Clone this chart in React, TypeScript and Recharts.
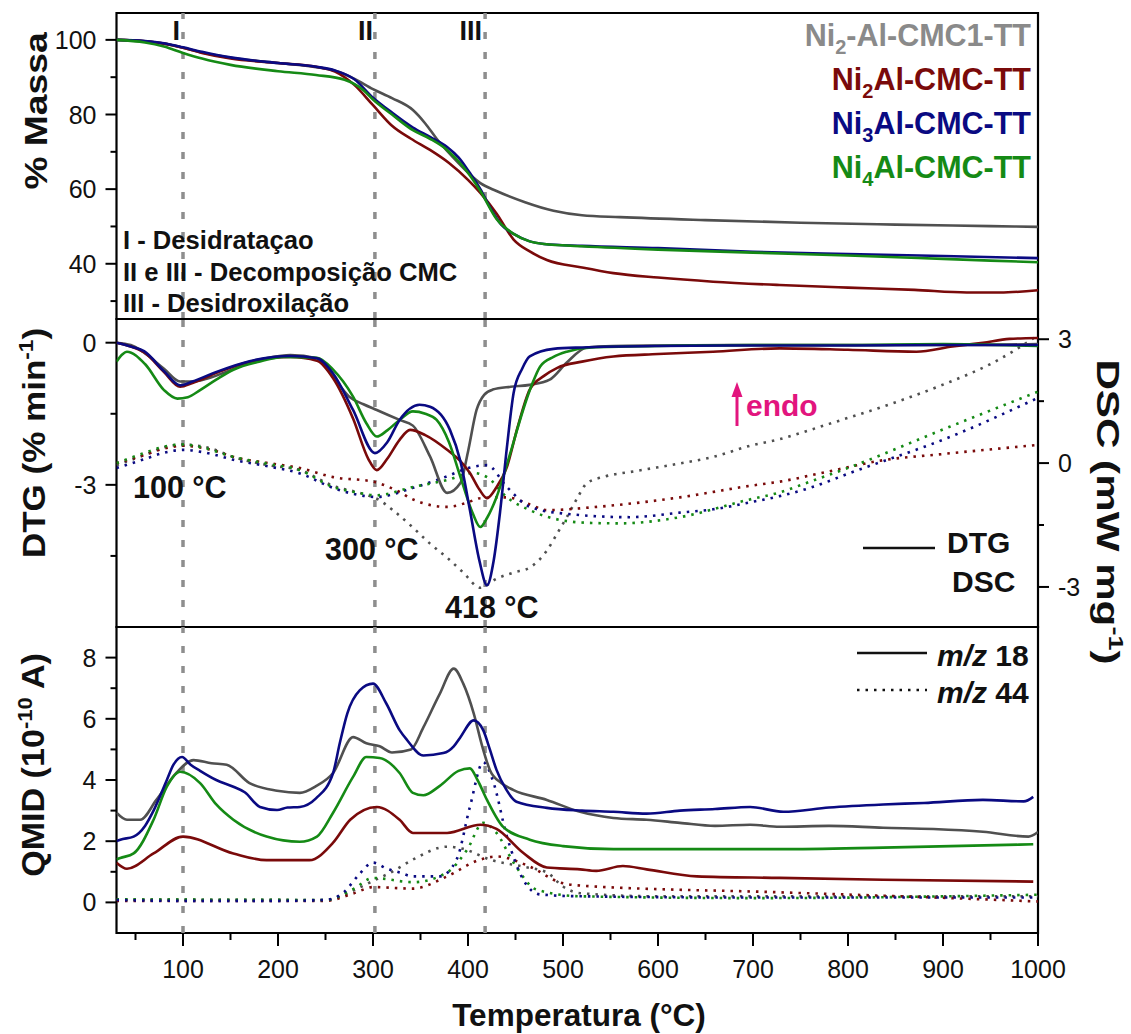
import React from 'react';
import { LineChart, Line, XAxis, YAxis, ReferenceLine, ReferenceArea } from 'recharts';

type Pt = [number, number];

const FONT = "'Liberation Sans', Arial, Helvetica, sans-serif";
const COLORS = { gray: '#505050', red: '#7a0a0a', blue: '#0a0a82', green: '#158a15' };
const LEGEND_GRAY = '#8a8a8a';
const PINK = '#e2157e';

// shared x axis
const X_DOMAIN: [number, number] = [30, 1000];
const X_TICKS = [50, 100, 150, 200, 250, 300, 350, 400, 450, 500, 550, 600, 650, 700, 750, 800, 850, 900, 950, 1000];
const X_MAJOR = [100, 200, 300, 400, 500, 600, 700, 800, 900, 1000];
const GUIDE_TEMPS = [100, 302, 418];

// y axes
const TGA_DOMAIN: [number, number] = [25.2, 107.2];
const TGA_TICKS = [30, 40, 50, 60, 70, 80, 90, 100];
const TGA_MAJOR = [40, 60, 80, 100];
const DTG_DOMAIN: [number, number] = [-6, 0.5];
const DTG_TICKS = [-4.5, -3, -1.5, 0];
const DTG_MAJOR = [-3, 0];
const DSC_DOMAIN: [number, number] = [-3.97, 3.49];
const DSC_TICKS = [-3, -1.5, 0, 1.5, 3];
const DSC_MAJOR = [-3, 0, 3];
const QMID_DOMAIN: [number, number] = [-1, 9];
const QMID_TICKS = [0, 1, 2, 3, 4, 5, 6, 7, 8];
const QMID_MAJOR = [0, 2, 4, 6, 8];

// ---------- TGA (% massa) ----------
const tgaGray: Pt[] = [[30,100],[60,99.6],[80,99],[100,97.9],[120,96.6],[150,95.2],[200,93.8],[240,92.7],[260,91.7],[280,89.6],[300,86.8],[320,84.4],[342,81.2],[355,77.6],[367,73.5],[390,67],[413,61.6],[430,59.5],[460,56.5],[490,54.2],[520,53],[560,52.5],[650,51.7],[750,51],[850,50.5],[950,50.1],[1000,49.9]];
const tgaRed: Pt[] = [[30,100],[60,99.6],[80,99],[100,97.9],[120,96.5],[150,95],[200,93.8],[240,92.8],[260,91.5],[280,88],[300,82.5],[320,77],[340,73.5],[360,70.5],[380,67],[400,62.5],[413,59],[430,53.5],[448,46.5],[465,43.3],[483,41],[520,39],[553,37.5],[600,36.3],[658,35.2],[728,34.3],[800,33.6],[870,33],[925,32.3],[960,32.3],[1000,32.9]];
const tgaBlue: Pt[] = [[30,100],[60,99.7],[80,99.1],[100,98],[120,96.8],[150,95.3],[200,93.8],[240,92.8],[260,91.8],[280,89.5],[300,84.5],[320,80.5],[342,76.5],[360,74],[378,71.3],[390,68.5],[402,64.3],[413,60],[423,55.2],[435,50.5],[448,48],[465,46],[480,45.3],[520,44.8],[600,44.2],[700,43.2],[800,42.6],[900,42.1],[1000,41.5]];
const tgaGreen: Pt[] = [[30,100],[60,99.3],[80,98.2],[100,96.5],[120,95],[150,93.3],[200,91.6],[240,90.6],[270,89.3],[290,86.5],[300,84],[320,80],[342,75.8],[360,73.5],[378,70.5],[395,66],[413,59.5],[430,52],[448,48],[465,46],[480,45.3],[520,44.7],[600,43.8],[700,43],[800,42.2],[900,41.3],[1000,40.4]];

// ---------- DTG (% min-1) ----------
const dtgGray: Pt[] = [[30,0],[45,-0.05],[59,-0.21],[80,-0.55],[97,-0.82],[110,-0.82],[125,-0.76],[150,-0.58],[170,-0.42],[190,-0.32],[213,-0.26],[241,-0.33],[258,-0.72],[275,-1.14],[290,-1.3],[304,-1.42],[328,-1.63],[342,-1.75],[360,-2.4],[378,-3.17],[392,-2.96],[400,-2.3],[409,-1.42],[417,-1.1],[426,-0.99],[445,-0.93],[465,-0.89],[486,-0.78],[504,-0.42],[525,-0.1],[553,-0.07],[600,-0.06],[700,-0.05],[800,-0.05],[900,-0.05],[1000,-0.03]];
const dtgRed: Pt[] = [[30,0],[45,-0.08],[59,-0.2],[80,-0.62],[97,-0.93],[110,-0.85],[136,-0.63],[170,-0.4],[213,-0.3],[241,-0.38],[258,-0.75],[279,-1.6],[295,-2.45],[304,-2.69],[315,-2.45],[328,-2.05],[339,-1.84],[355,-1.95],[378,-2.26],[392,-2.5],[402,-2.75],[412,-3.1],[420,-3.28],[430,-3.05],[441,-2.62],[452,-1.8],[465,-0.99],[480,-0.7],[494,-0.53],[520,-0.4],[553,-0.29],[600,-0.24],[658,-0.19],[728,-0.12],[800,-0.15],[872,-0.19],[910,-0.08],[942,0],[970,0.08],[1000,0.1]];
const dtgBlue: Pt[] = [[30,0],[45,-0.08],[59,-0.18],[80,-0.6],[97,-0.9],[110,-0.82],[136,-0.61],[170,-0.39],[213,-0.28],[241,-0.33],[258,-0.65],[279,-1.42],[302,-2.33],[315,-2.1],[328,-1.63],[349,-1.31],[360,-1.35],[381,-1.84],[392,-2.5],[402,-3.53],[412,-4.6],[420,-5.12],[427,-4.6],[434,-3.53],[441,-2.2],[448,-1.06],[457,-0.55],[465,-0.29],[490,-0.13],[520,-0.1],[600,-0.07],[700,-0.06],[800,-0.06],[900,-0.05],[1000,-0.05]];
const dtgGreen: Pt[] = [[30,-0.4],[36,-0.25],[41,-0.19],[60,-0.45],[80,-1.0],[94,-1.18],[105,-1.15],[118,-1.0],[135,-0.78],[153,-0.57],[180,-0.4],[206,-0.3],[241,-0.32],[258,-0.57],[279,-1.14],[293,-1.7],[304,-1.98],[315,-1.85],[328,-1.63],[342,-1.45],[355,-1.5],[367,-1.63],[380,-2.1],[392,-2.83],[405,-3.6],[413,-3.89],[420,-3.7],[430,-3.26],[445,-2.3],[458,-1.42],[467,-0.9],[476,-0.5],[490,-0.3],[504,-0.19],[530,-0.1],[600,-0.07],[700,-0.05],[800,-0.05],[900,-0.03],[1000,-0.07]];

// ---------- DSC (mW mg-1) ----------
const dscGray: Pt[] = [[30,-0.05],[60,0.2],[80,0.38],[100,0.45],[130,0.35],[153,0.15],[190,-0.05],[223,-0.17],[258,-0.55],[290,-0.75],[307,-0.9],[321,-1.14],[342,-1.56],[360,-1.95],[378,-2.29],[395,-2.65],[413,-3.02],[430,-2.8],[448,-2.65],[465,-2.53],[483,-2.12],[494,-1.7],[504,-1.31],[515,-0.85],[525,-0.49],[545,-0.32],[575,-0.2],[620,-0.02],[658,0.15],[697,0.42],[728,0.58],[780,0.95],[837,1.37],[900,1.9],[950,2.4],[977,2.75],[1000,3.1]];
const dscRed: Pt[] = [[30,0],[60,0.2],[80,0.35],[100,0.42],[130,0.32],[153,0.15],[190,0],[223,-0.12],[258,-0.34],[300,-0.45],[328,-0.7],[342,-0.88],[378,-1.06],[400,-0.95],[413,-0.85],[441,-0.83],[465,-1.0],[483,-1.14],[536,-1.06],[623,-0.83],[697,-0.55],[728,-0.45],[780,-0.2],[837,0.07],[900,0.22],[1000,0.44]];
const dscBlue: Pt[] = [[30,-0.12],[60,0.1],[80,0.25],[100,0.32],[130,0.22],[153,0.08],[190,-0.08],[223,-0.25],[258,-0.6],[280,-0.75],[304,-0.82],[342,-0.6],[378,-0.32],[400,-0.12],[420,-0.05],[441,-0.58],[465,-1.06],[500,-1.22],[570,-1.31],[623,-1.2],[658,-1.12],[697,-0.95],[728,-0.8],[760,-0.6],[802,-0.24],[907,0.63],[1000,1.58]];
const dscGreen: Pt[] = [[30,0],[60,0.25],[80,0.4],[100,0.45],[120,0.38],[153,0.15],[190,-0.02],[223,-0.17],[258,-0.58],[280,-0.7],[304,-0.78],[342,-0.58],[378,-0.41],[405,-0.24],[420,-0.34],[441,-0.83],[465,-1.14],[500,-1.39],[530,-1.45],[560,-1.46],[623,-1.31],[693,-0.9],[728,-0.71],[760,-0.45],[802,-0.1],[907,0.88],[1000,1.73]];

// ---------- QMID m/z 18 (10^-10 A) ----------
const ms18Gray: Pt[] = [[30,2.93],[41,2.7],[55,2.7],[72,3.35],[93,4.23],[111,4.65],[130,4.55],[146,4.5],[170,3.9],[199,3.65],[223,3.58],[240,3.8],[258,4.23],[279,5.4],[293,5.2],[307,5.1],[320,4.9],[340,5.0],[353,5.72],[370,6.8],[385,7.64],[395,7.15],[406,6.18],[415,5.1],[423,4.33],[435,3.9],[448,3.67],[483,3.35],[518,2.96],[553,2.76],[588,2.7],[623,2.6],[660,2.5],[697,2.54],[728,2.47],[780,2.5],[837,2.44],[890,2.4],[942,2.31],[990,2.15],[1000,2.3]];
const ms18Red: Pt[] = [[30,1.3],[41,1.1],[69,1.6],[100,2.15],[153,1.6],[188,1.38],[233,1.38],[258,1.95],[276,2.7],[304,3.12],[328,2.7],[342,2.27],[378,2.27],[413,2.54],[430,2.4],[458,1.62],[483,1.14],[518,1.08],[535,1.03],[563,1.19],[588,1.08],[641,0.85],[728,0.8],[837,0.74],[995,0.68]];
const ms18Blue: Pt[] = [[30,2.0],[34,2.05],[48,2.15],[60,2.5],[69,3.0],[83,4.0],[90,4.5],[99,4.75],[108,4.5],[118,4.3],[135,4.0],[153,3.78],[165,3.6],[181,3.12],[199,3.02],[210,3.1],[223,3.12],[240,3.4],[258,4.23],[265,5.2],[273,6.18],[286,6.93],[300,7.15],[314,6.5],[328,5.63],[336,5.3],[353,4.8],[374,4.88],[385,5.1],[392,5.4],[406,5.95],[416,5.63],[423,5.0],[430,4.33],[440,3.7],[451,3.29],[483,3.09],[520,3.0],[553,2.96],[588,2.9],[623,3.0],[660,3.05],[697,3.12],[732,2.96],[780,3.1],[837,3.2],[880,3.25],[942,3.35],[985,3.3],[995,3.45]];
const ms18Green: Pt[] = [[30,1.4],[34,1.45],[48,1.6],[69,2.7],[83,3.78],[97,4.27],[118,3.9],[135,3.2],[153,2.7],[188,2.15],[223,1.98],[241,2.15],[258,2.93],[279,4.1],[293,4.75],[307,4.72],[328,4.23],[342,3.58],[353,3.5],[370,3.8],[390,4.3],[402,4.38],[410,4.0],[420,3.35],[437,2.47],[465,2.05],[500,1.84],[553,1.74],[728,1.74],[837,1.79],[995,1.9]];

// ---------- QMID m/z 44 ----------
const ms44Gray: Pt[] = [[30,0.1],[250,0.08],[280,0.4],[300,0.7],[320,1.0],[342,1.4],[378,1.82],[395,1.75],[423,1.4],[458,1.17],[483,0.98],[500,0.52],[518,0.3],[600,0.2],[1000,0.2]];
const ms44Red: Pt[] = [[30,0.05],[250,0.05],[280,0.3],[300,0.5],[342,0.45],[378,0.85],[413,1.4],[430,1.5],[465,1.17],[497,0.65],[518,0.55],[728,0.33],[900,0.15],[1000,0.03]];
const ms44Blue: Pt[] = [[30,0.08],[100,0.05],[200,0.05],[250,0.08],[270,0.35],[285,0.9],[300,1.3],[315,1.1],[328,0.98],[342,0.85],[370,0.85],[388,1.4],[402,3.12],[416,4.58],[426,4.0],[441,2.15],[458,0.75],[476,0.26],[518,0.2],[700,0.16],[1000,0.16]];
const ms44Green: Pt[] = [[30,0.1],[250,0.08],[280,0.45],[300,0.8],[342,0.66],[378,0.98],[399,1.72],[416,2.6],[430,2.27],[448,1.3],[472,0.42],[518,0.2],[700,0.14],[1000,0.25]];

const rows = (pts: Pt[]) => pts.map(([t, v]) => ({ t, v }));

const W = 1131;
const PLOT_LEFT = 116.5;
const PLOT_RIGHT_MARGIN = 93;
const DOTTED = '2.5 6';

function yTick(side: 'left' | 'right', majors: number[]) {
  return (p: any) => {
    const { x, y, payload } = p;
    const v = payload.value;
    const isMajor = majors.some((m) => Math.abs(m - v) < 1e-9);
    const dir = side === 'left' ? -1 : 1;
    const len = isMajor ? 11 : 6;
    return (
      <g>
        <line x1={x} x2={x + dir * len} y1={y} y2={y} stroke="#000" strokeWidth={2} />
        {isMajor && (
          <text x={x + dir * (len + 9)} y={y} dy="0.36em" textAnchor={side === 'left' ? 'end' : 'start'} fontSize={25} fontFamily={FONT} fill="#111">
            {String(v)}
          </text>
        )}
      </g>
    );
  };
}

const xTick = (p: any) => {
  const { x, y, payload } = p;
  const v = payload.value;
  const isMajor = X_MAJOR.includes(v);
  return (
    <g>
      <line x1={x} x2={x} y1={y} y2={y + (isMajor ? 13 : 7)} stroke="#000" strokeWidth={2} />
      {isMajor && (
        <text x={x} y={y + 45} textAnchor="middle" fontSize={25} fontFamily={FONT} fill="#111">
          {String(v)}
        </text>
      )}
    </g>
  );
};

const guides = (yAxisId: string) =>
  GUIDE_TEMPS.map((t) => (
    <ReferenceLine key={'g' + t} x={t} yAxisId={yAxisId} stroke="#8e8e8e" strokeWidth={3.5} strokeDasharray="7 13" ifOverflow="visible" />
  ));

const frame = (yAxisId: string, dom: [number, number]) => (
  <ReferenceArea x1={X_DOMAIN[0]} x2={X_DOMAIN[1]} y1={dom[0]} y2={dom[1]} yAxisId={yAxisId} fill="none" stroke="#000" strokeWidth={2.2} ifOverflow="visible" />
);

const solid = (pts: Pt[], color: string, yAxisId: string, key: string) => (
  <Line key={key} data={rows(pts)} dataKey="v" yAxisId={yAxisId} type="monotone" stroke={color} strokeWidth={2.6} dot={false} activeDot={false} isAnimationActive={false} />
);
const dotted = (pts: Pt[], color: string, yAxisId: string, key: string) => (
  <Line key={key} data={rows(pts)} dataKey="v" yAxisId={yAxisId} type="monotone" stroke={color} strokeWidth={2.6} strokeDasharray={DOTTED} dot={false} activeDot={false} isAnimationActive={false} />
);

function TgaPanel() {
  return (
    <LineChart width={W} height={330} margin={{ top: 13, right: PLOT_RIGHT_MARGIN, bottom: 11, left: 0 }}>
      <XAxis type="number" dataKey="t" domain={X_DOMAIN} allowDataOverflow hide />
      <YAxis yAxisId="l" width={PLOT_LEFT} domain={TGA_DOMAIN} ticks={TGA_TICKS} allowDataOverflow axisLine={false} tickLine={false} tickSize={0} tickMargin={0} tick={yTick('left', TGA_MAJOR)} interval={0} />
      {guides('l')}
      {solid(tgaGray, COLORS.gray, 'l', 'a1')}
      {solid(tgaRed, COLORS.red, 'l', 'a2')}
      {solid(tgaBlue, COLORS.blue, 'l', 'a3')}
      {solid(tgaGreen, COLORS.green, 'l', 'a4')}
      {frame('l', TGA_DOMAIN)}
    </LineChart>
  );
}

function DtgPanel() {
  return (
    <LineChart width={W} height={340} margin={{ top: 19, right: 0, bottom: 13, left: 0 }}>
      <XAxis type="number" dataKey="t" domain={X_DOMAIN} allowDataOverflow hide />
      <YAxis yAxisId="l" width={PLOT_LEFT} domain={DTG_DOMAIN} ticks={DTG_TICKS} allowDataOverflow axisLine={false} tickLine={false} tickSize={0} tickMargin={0} tick={yTick('left', DTG_MAJOR)} interval={0} />
      <YAxis yAxisId="r" orientation="right" width={PLOT_RIGHT_MARGIN} domain={DSC_DOMAIN} ticks={DSC_TICKS} allowDataOverflow axisLine={false} tickLine={false} tickSize={0} tickMargin={0} tick={yTick('right', DSC_MAJOR)} interval={0} />
      {guides('l')}
      {dotted(dscGray, COLORS.gray, 'r', 'd1')}
      {dotted(dscRed, COLORS.red, 'r', 'd2')}
      {dotted(dscBlue, COLORS.blue, 'r', 'd3')}
      {dotted(dscGreen, COLORS.green, 'r', 'd4')}
      {solid(dtgGray, COLORS.gray, 'l', 'b1')}
      {solid(dtgRed, COLORS.red, 'l', 'b2')}
      {solid(dtgGreen, COLORS.green, 'l', 'b4')}
      {solid(dtgBlue, COLORS.blue, 'l', 'b3')}
      {frame('l', DTG_DOMAIN)}
    </LineChart>
  );
}

function QmidPanel() {
  return (
    <LineChart width={W} height={424} margin={{ top: 17, right: PLOT_RIGHT_MARGIN, bottom: 0, left: 0 }}>
      <XAxis type="number" dataKey="t" domain={X_DOMAIN} ticks={X_TICKS} allowDataOverflow height={101} axisLine={false} tickLine={false} tickSize={0} tickMargin={0} tick={xTick} interval={0} />
      <YAxis yAxisId="l" width={PLOT_LEFT} domain={QMID_DOMAIN} ticks={QMID_TICKS} allowDataOverflow axisLine={false} tickLine={false} tickSize={0} tickMargin={0} tick={yTick('left', QMID_MAJOR)} interval={0} />
      {guides('l')}
      {dotted(ms44Gray, COLORS.gray, 'l', 'm1')}
      {dotted(ms44Red, COLORS.red, 'l', 'm2')}
      {dotted(ms44Green, COLORS.green, 'l', 'm4')}
      {dotted(ms44Blue, COLORS.blue, 'l', 'm3')}
      {solid(ms18Gray, COLORS.gray, 'l', 'q1')}
      {solid(ms18Red, COLORS.red, 'l', 'q2')}
      {solid(ms18Green, COLORS.green, 'l', 'q4')}
      {solid(ms18Blue, COLORS.blue, 'l', 'q3')}
      {frame('l', QMID_DOMAIN)}
    </LineChart>
  );
}

const LEGEND_SAMPLES = [
  { name: 'Ni', sub: '2', rest: '-Al-CMC1-TT', color: LEGEND_GRAY },
  { name: 'Ni', sub: '2', rest: 'Al-CMC-TT', color: COLORS.red },
  { name: 'Ni', sub: '3', rest: 'Al-CMC-TT', color: COLORS.blue },
  { name: 'Ni', sub: '4', rest: 'Al-CMC-TT', color: COLORS.green },
];
const STAGE_NOTES = ['I - Desidrataçao', 'II e III - Decomposição CMC', 'III - Desidroxilação'];

function Overlay() {
  const bold = { fontFamily: FONT, fontWeight: 700 as const, fill: '#111' };
  return (
    <svg width={W} height={1034} style={{ position: 'absolute', left: 0, top: 0, pointerEvents: 'none' }}>
      {/* stage markers */}
      <text x={180} y={40} textAnchor="end" fontSize={27} {...bold}>I</text>
      <text x={373} y={40} textAnchor="end" fontSize={27} {...bold}>II</text>
      <text x={482} y={40} textAnchor="end" fontSize={27} {...bold}>III</text>
      {/* sample legend */}
      {LEGEND_SAMPLES.map((s, i) => (
        <text key={i} x={1031} y={46 + i * 44} textAnchor="end" fontSize={30.5} fontFamily={FONT} fontWeight={700} fill={s.color}>
          {s.name}
          <tspan fontSize={20} dy={8}>{s.sub}</tspan>
          <tspan dy={-8}>{s.rest}</tspan>
        </text>
      ))}
      {STAGE_NOTES.map((n, i) => (
        <text key={n} x={123} y={249 + i * 31.5} fontSize={25.6} {...bold}>{n}</text>
      ))}
      {/* DTG annotations */}
      <text x={133} y={498} fontSize={30.5} {...bold}>100 °C</text>
      <text x={325} y={560} fontSize={30.5} {...bold}>300 °C</text>
      <text x={445} y={618} fontSize={30.5} {...bold}>418 °C</text>
      <line x1={737} x2={737} y1={426} y2={394} stroke={PINK} strokeWidth={3} />
      <polygon points="737,382 731.5,397 742.5,397" fill={PINK} />
      <text x={746} y={416} fontSize={30} fontFamily={FONT} fontWeight={700} fill={PINK}>endo</text>
      <line x1={863} x2={935} y1={548} y2={548} stroke="#111" strokeWidth={2.6} />
      <text x={947} y={553} fontSize={30} {...bold}>DTG</text>
      <text x={952} y={592} fontSize={30} {...bold}>DSC</text>
      {/* m/z legend */}
      <line x1={857} x2={927} y1={653} y2={653} stroke="#111" strokeWidth={2.6} />
      <text x={937} y={666} fontSize={30} {...bold}><tspan fontStyle="italic">m/z</tspan> 18</text>
      <line x1={857} x2={927} y1={690} y2={690} stroke="#111" strokeWidth={2.6} strokeDasharray={DOTTED} />
      <text x={937} y={703} fontSize={30} {...bold}><tspan fontStyle="italic">m/z</tspan> 44</text>
      {/* axis titles (horizontally stretched as in the source) */}
      <text transform="translate(47,111) rotate(-90) scale(1.2,1)" textAnchor="middle" fontSize={31} {...bold}>% Massa</text>
      <text transform="translate(45,443) rotate(-90) scale(1.13,1)" textAnchor="middle" fontSize={31} {...bold}>
        DTG (% min<tspan fontSize={20} dy={-12}>-1</tspan><tspan dy={12}>)</tspan>
      </text>
      <text transform="translate(44,765) rotate(-90) scale(1.1,1)" textAnchor="middle" fontSize={31} {...bold}>
        QMID (10<tspan fontSize={20} dy={-12}>-10</tspan><tspan dy={12}> A)</tspan>
      </text>
      <text transform="translate(1097,512) rotate(90) scale(1.36,1)" textAnchor="middle" fontSize={31} {...bold}>
        DSC (mW mg<tspan fontSize={20} dy={-12}>-1</tspan><tspan dy={12}>)</tspan>
      </text>
      <text x={579} y={1026} textAnchor="middle" fontSize={31.5} {...bold}>Temperatura (°C)</text>
    </svg>
  );
}

export default function App() {
  return (
    <div style={{ position: 'absolute', left: 0, top: 0, width: W, height: 1034, background: '#fff', overflow: 'hidden' }}>
      <div style={{ position: 'absolute', left: 0, top: 0 }}><TgaPanel /></div>
      <div style={{ position: 'absolute', left: 0, top: 300 }}><DtgPanel /></div>
      <div style={{ position: 'absolute', left: 0, top: 610 }}><QmidPanel /></div>
      <Overlay />
    </div>
  );
}
